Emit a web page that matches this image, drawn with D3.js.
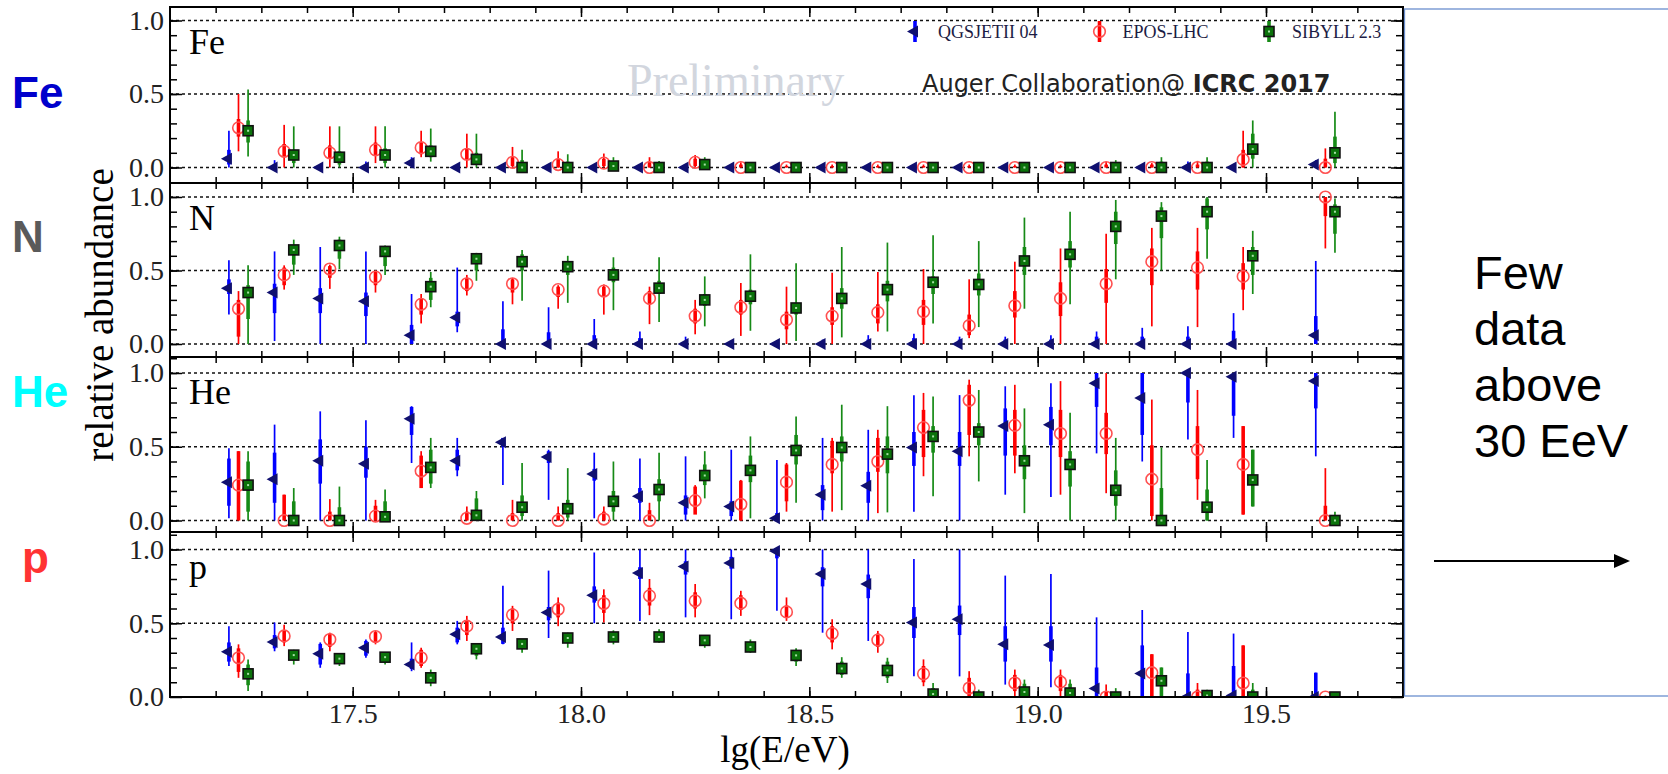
<!DOCTYPE html>
<meta charset="utf-8">
<html>
<head>
<style>
  body { margin: 0; background: #fff; }
  svg { display: block; }
</style>
</head>
<body>
<div id="chart"></div>
<script src="https://d3js.org/d3.v7.min.js"></script>
<script>

  // Energy bins lg(E/eV), last one is the open bin above 19.5
  var lgE = [17.25, 17.35, 17.45, 17.55, 17.65, 17.75, 17.85, 17.95, 18.05, 18.15, 18.25, 18.35,
             18.45, 18.55, 18.65, 18.75, 18.85, 18.95, 19.05, 19.15, 19.25, 19.35, 19.45, 19.63];

  // every point: [value, sys low, sys high, stat low, stat high]
  var qgsFe = [[0.06,0,0.25,0.02,0.12],[0,0,0.05,0,0.02],[0,0,0.02,0,0.01],[0,0,0.04,0,0.02],
    [0.03,0,0.07,0.01,0.05],[0,0,0.01,0,0],[0,0,0.01,0,0],[0,0,0.01,0,0],[0,0,0.02,0,0.01],
    [0,0,0.01,0,0],[0,0,0.02,0,0.01],[0,0,0.01,0,0],[0,0,0.01,0,0],[0,0,0.01,0,0],[0,0,0.01,0,0],
    [0,0,0.01,0,0],[0,0,0.01,0,0],[0,0,0.01,0,0],[0,0,0.01,0,0],[0,0,0.01,0,0],[0,0,0.01,0,0],
    [0,0,0.04,0,0.02],[0,0,0.01,0,0],[0.02,0,0.05,0,0.04]];
  var eposFe = [[0.27,0.11,0.5,0.21,0.33],[0.11,0,0.29,0.07,0.16],[0.10,0,0.28,0.06,0.15],
    [0.12,0.03,0.28,0.08,0.17],[0.135,0.07,0.25,0.09,0.17],[0.09,0,0.23,0.05,0.13],
    [0.035,0,0.14,0.01,0.07],[0.02,0,0.11,0,0.06],[0.03,0,0.095,0.01,0.06],[0,0,0.07,0,0.04],
    [0.035,0,0.085,0.01,0.06],[0,0,0.035,0,0.02],[0,0,0.02,0,0.01],[0,0,0.02,0,0.01],
    [0,0,0.02,0,0.01],[0,0,0.02,0,0.01],[0,0,0.02,0,0.01],[0,0,0.02,0,0.01],[0,0,0.02,0,0.01],
    [0,0,0.04,0,0.02],[0,0,0.03,0,0.02],[0,0,0.045,0,0.02],[0.055,0,0.25,0,0.12],[0,0,0.13,0,0.06]];
  var sibFe = [[0.25,0.075,0.53,0.17,0.32],[0.085,0,0.28,0.03,0.12],[0.07,0,0.28,0.02,0.11],
    [0.085,0,0.28,0.03,0.13],[0.11,0.04,0.265,0.07,0.15],[0.055,0,0.23,0.02,0.1],[0,0,0.12,0,0.05],
    [0,0,0.09,0,0.04],[0.01,0,0.07,0,0.04],[0,0,0.045,0,0.02],[0.02,0,0.07,0,0.04],[0,0,0.02,0,0.01],
    [0,0,0.02,0,0.01],[0,0,0.02,0,0.01],[0,0,0.02,0,0.01],[0,0,0.02,0,0.01],[0,0,0.02,0,0.01],
    [0,0,0.02,0,0.01],[0,0,0.02,0,0.01],[0,0,0.05,0,0.03],[0,0,0.07,0,0.04],[0,0,0.07,0,0.04],
    [0.125,0,0.32,0.06,0.23],[0.10,0,0.38,0.03,0.21]];

  var qgsN = [[0.38,0.2,0.57,0.34,0.44],[0.35,0.02,0.63,0.21,0.41],[0.31,0,0.66,0.21,0.38],
    [0.29,0,0.63,0.19,0.35],[0.06,0,0.34,0,0.13],[0.18,0.08,0.52,0.12,0.22],[0,0,0.29,0,0.1],
    [0,0,0.25,0,0.08],[0,0,0.17,0,0.06],[0,0,0.085,0,0.04],[0,0,0.05,0,0.02],[0,0,0.01,0,0],
    [0,0,0.01,0,0],[0,0,0.03,0,0.02],[0,0,0.06,0,0.03],[0,0,0.07,0,0.04],[0,0,0.05,0,0.03],
    [0,0,0.05,0,0.03],[0,0,0.06,0,0.03],[0,0,0.085,0,0.05],[0,0,0.11,0,0.05],[0,0,0.12,0,0.05],
    [0,0,0.21,0,0.09],[0.06,0,0.565,0,0.19]];
  var eposN = [[0.24,0,0.36,0.05,0.3],[0.47,0.37,0.535,0.4,0.52],[0.51,0.375,0.54,0.45,0.53],
    [0.455,0.35,0.5,0.4,0.49],[0.27,0.14,0.34,0.2,0.31],[0.41,0.33,0.47,0.36,0.45],
    [0.41,0.27,0.45,0.35,0.44],[0.37,0.24,0.4,0.32,0.39],[0.36,0.2,0.405,0.32,0.39],
    [0.31,0.135,0.39,0.27,0.36],[0.19,0.066,0.3,0.14,0.24],[0.25,0.055,0.415,0.2,0.3],
    [0.165,0,0.39,0.1,0.22],[0.19,0,0.485,0.13,0.25],[0.215,0.085,0.49,0.14,0.27],
    [0.22,0,0.51,0.13,0.3],[0.125,0.04,0.44,0.06,0.2],[0.26,0,0.56,0.18,0.36],[0.31,0,0.65,0.19,0.42],
    [0.41,0,0.75,0.28,0.51],[0.56,0.12,0.79,0.4,0.65],[0.52,0.115,0.79,0.37,0.63],
    [0.46,0.23,0.66,0.37,0.55],[1.0,0.65,1.0,0.87,1.0]];
  var sibN = [[0.35,0,0.535,0.17,0.4],[0.64,0.47,0.71,0.54,0.67],[0.67,0.51,0.73,0.58,0.71],
    [0.63,0.47,0.67,0.53,0.66],[0.39,0.25,0.49,0.3,0.45],[0.58,0.43,0.62,0.5,0.61],
    [0.56,0.295,0.64,0.5,0.61],[0.526,0.28,0.6,0.47,0.56],[0.47,0.23,0.59,0.42,0.52],
    [0.38,0.15,0.59,0.34,0.43],[0.30,0.12,0.46,0.26,0.34],[0.325,0.09,0.61,0.27,0.37],
    [0.245,0.02,0.55,0.2,0.28],[0.31,0.045,0.66,0.24,0.38],[0.37,0.085,0.69,0.29,0.43],
    [0.42,0.14,0.74,0.34,0.46],[0.405,0.115,0.70,0.33,0.48],[0.565,0.24,0.86,0.47,0.66],
    [0.61,0.27,0.9,0.52,0.7],[0.8,0.44,0.98,0.68,0.9],[0.87,0.5,0.965,0.72,0.93],
    [0.9,0.58,1.0,0.78,0.99],[0.6,0.34,0.77,0.47,0.66],[0.9,0.62,0.99,0.75,0.95]];

  var qgsHe = [[0.26,0.015,0.49,0.1,0.42],[0.28,0,0.65,0.12,0.46],[0.405,0,0.74,0.25,0.55],
    [0.385,0,0.68,0.29,0.5],[0.69,0.39,0.775,0.58,0.77],[0.405,0.3,0.56,0.34,0.48],
    [0.53,0.24,0.56,0.5,0.56],[0.43,0.14,0.48,0.39,0.47],[0.315,0.015,0.46,0.27,0.35],
    [0.165,0,0.42,0.12,0.22],[0.12,0,0.435,0.04,0.17],[0.095,0,0.48,0.03,0.13],[0.015,0,0.41,0,0.05],
    [0.175,0,0.56,0.07,0.24],[0.235,0,0.615,0.12,0.33],[0.495,0.06,0.85,0.37,0.6],
    [0.47,0,0.85,0.37,0.6],[0.64,0.175,0.91,0.44,0.76],[0.65,0.16,0.93,0.51,0.77],
    [0.93,0.455,1.0,0.77,1.0],[0.83,0.4,1.0,0.58,1.0],[1.0,0.55,1.0,0.8,1.0],
    [0.975,0.56,1.0,0.71,1.0],[0.945,0.435,1.0,0.76,1.0]];
  var eposHe = [[0.24,0,0.47,0,0.47],[0,0,0.175,0,0.175],[0,0,0.145,0,0.06],[0.03,0,0.14,0,0.1],
    [0.335,0.22,0.47,0.22,0.44],[0.015,0,0.095,0,0.06],[0,0,0.14,0,0.05],[0,0,0.095,0,0.05],
    [0.01,0,0.095,0,0.06],[0,0,0.12,0,0.07],[0.135,0.045,0.24,0.04,0.23],[0.11,0,0.275,0,0.27],
    [0.26,0.06,0.39,0.13,0.38],[0.38,0.06,0.56,0.32,0.54],[0.40,0.05,0.615,0.33,0.56],
    [0.63,0.3,0.865,0.43,0.75],[0.815,0.435,0.955,0.58,0.92],[0.645,0.32,0.92,0.44,0.75],
    [0.59,0.175,0.945,0.43,0.75],[0.59,0.185,1.0,0.45,0.73],[0.28,0,0.82,0.03,0.51],
    [0.48,0.14,0.885,0.28,0.64],[0.38,0.04,0.64,0.04,0.64],[0,0,0.355,0,0.1]];
  var sibHe = [[0.24,0,0.47,0.06,0.4],[0,0,0.22,0,0.13],[0,0,0.23,0,0.09],[0.025,0,0.21,0,0.13],
    [0.36,0.22,0.56,0.25,0.48],[0.035,0,0.2,0,0.15],[0.09,0,0.39,0.03,0.17],[0.08,0,0.355,0.02,0.14],
    [0.13,0,0.4,0.06,0.2],[0.21,0,0.46,0.13,0.28],[0.305,0.15,0.47,0.24,0.38],
    [0.34,0.015,0.57,0.26,0.44],[0.475,0.12,0.705,0.38,0.58],[0.495,0.07,0.785,0.4,0.57],
    [0.45,0.055,0.775,0.32,0.57],[0.57,0.165,0.84,0.46,0.64],[0.6,0.265,0.885,0.51,0.66],
    [0.405,0.05,0.76,0.28,0.51],[0.38,0,0.73,0.23,0.47],[0.205,0,0.56,0.1,0.34],[0,0,0.495,0,0.22],
    [0.09,0,0.41,0,0.21],[0.275,0.095,0.48,0.095,0.48],[0,0,0.06,0,0.03]];

  var qgsP = [[0.307,0.21,0.48,0.24,0.37],[0.373,0.31,0.505,0.33,0.42],[0.293,0.198,0.37,0.22,0.36],
    [0.334,0.266,0.39,0.28,0.38],[0.22,0.175,0.37,0.19,0.26],[0.425,0.357,0.516,0.37,0.47],
    [0.407,0.357,0.755,0.36,0.47],[0.573,0.4,0.857,0.52,0.61],[0.69,0.5,0.98,0.64,0.75],
    [0.84,0.516,1.0,0.8,0.88],[0.884,0.54,1.0,0.83,0.92],[0.909,0.527,1.0,0.87,0.95],
    [0.99,0.584,1.0,0.94,1.0],[0.834,0.436,1.0,0.75,0.88],[0.766,0.38,1.0,0.67,0.83],
    [0.505,0.14,0.936,0.4,0.61],[0.527,0.14,1.0,0.42,0.62],[0.357,0.084,0.823,0.24,0.48],
    [0.352,0.066,0.834,0.24,0.48],[0.057,0,0.54,0,0.2],[0.16,0,0.59,0,0.35],[0,0,0.44,0,0.16],
    [0.01,0,0.43,0,0.21],[0,0,0.165,0,0.165]];
  var eposP = [[0.266,0.13,0.357,0.17,0.33],[0.414,0.345,0.49,0.37,0.45],[0.39,0.31,0.436,0.34,0.43],
    [0.41,0.357,0.45,0.37,0.44],[0.266,0.198,0.334,0.21,0.32],[0.48,0.38,0.55,0.42,0.52],
    [0.557,0.448,0.618,0.5,0.6],[0.595,0.48,0.675,0.54,0.64],[0.634,0.505,0.73,0.57,0.69],
    [0.686,0.555,0.8,0.62,0.74],[0.652,0.54,0.766,0.6,0.71],[0.636,0.55,0.72,0.59,0.69],
    [0.577,0.516,0.675,0.54,0.62],[0.43,0.323,0.527,0.37,0.48],[0.386,0.3,0.448,0.34,0.43],
    [0.157,0.073,0.255,0.1,0.21],[0.061,0,0.175,0,0.13],[0.095,0,0.186,0.04,0.15],
    [0.102,0,0.186,0.04,0.15],[0,0,0.085,0,0.04],[0.165,0,0.29,0,0.29],[0,0,0.095,0,0.05],
    [0.095,0,0.35,0,0.35],[0,0,0.01,0,0]];
  var sibP = [[0.157,0.04,0.255,0.08,0.22],[0.284,0.22,0.32,0.25,0.31],[0.26,0.21,0.29,0.23,0.28],
    [0.27,0.22,0.30,0.24,0.29],[0.13,0.073,0.186,0.1,0.16],[0.327,0.255,0.357,0.28,0.34],
    [0.36,0.3,0.39,0.33,0.38],[0.40,0.334,0.436,0.37,0.42],[0.407,0.357,0.452,0.38,0.43],
    [0.407,0.368,0.46,0.38,0.43],[0.384,0.334,0.414,0.36,0.41],[0.339,0.3,0.39,0.32,0.37],
    [0.282,0.21,0.33,0.24,0.31],[0.193,0.13,0.27,0.15,0.24],[0.18,0.095,0.266,0.13,0.24],
    [0.02,0,0.095,0,0.06],[0,0,0.05,0,0.03],[0.034,0,0.118,0,0.09],[0.027,0,0.118,0,0.09],
    [0,0,0.06,0,0.03],[0.11,0,0.2,0,0.2],[0.01,0,0.05,0,0.03],[0,0,0.095,0,0.05],[0,0,0.01,0,0]];

  var models = ["QGSJETII 04", "EPOS-LHC", "SIBYLL 2.3"];
  var xTickLabels = [17.5, 18.0, 18.5, 19.0, 19.5];
  var yTickLabels = [0, 0.5, 1.0];
  var noteLines = ["Few", "data", "above", "30 EeV"];

  // Layout
  var left = 170, right = 1403;
  var barColor = ["#0000ff", "#ff0000", "#168a16"];
  var shift = [-0.021, 0, 0.021];

  var panels = [
    {name: "Fe", side: "Fe", sideColor: "#0000cc", sideX: 12, sideY: 108, rows: [qgsFe, eposFe, sibFe], top: 7, bottom: 183, zero: 167.5, one: 20.5},
    {name: "N", side: "N", sideColor: "#5a5a5a", sideX: 12, sideY: 252, rows: [qgsN, eposN, sibN], top: 183, bottom: 357, zero: 344, one: 197},
    {name: "He", side: "He", sideColor: "#00ffff", sideX: 12, sideY: 407, rows: [qgsHe, eposHe, sibHe], top: 357, bottom: 532, zero: 520.5, one: 373},
    {name: "p", side: "p", sideColor: "#ff3333", sideX: 22, sideY: 573, rows: [qgsP, eposP, sibP], top: 532, bottom: 697, zero: 697, one: 549.5}
  ];

  var svg = d3.select("#chart")
    .append("svg")
      .attr("width", 1668)
      .attr("height", 774);

  svg.append("rect").attr("width", 1668).attr("height", 774).attr("fill", "#fff");

  var x = d3.scaleLinear()
    .domain([17.1, 19.8])
    .range([left, right]);

  var xMinor = d3.range(172, 198).map(function(d) { return d / 10; });

  // draw a marker of model m at (cx, cy)
  function marker(g, m, cx, cy) {
    if (m == 0) {
      g.append("path")
        .attr("d", "M" + (cx + 3) + "," + (cy - 6) + "L" + (cx - 8) + "," + cy + "L" + (cx + 3) + "," + (cy + 6) + "Z")
        .attr("fill", "#101070");
    } else if (m == 1) {
      g.append("circle")
        .attr("cx", cx).attr("cy", cy).attr("r", 5.8)
        .attr("fill", "none")
        .attr("stroke", "#ff5050")
        .attr("stroke-width", 1.6);
    } else {
      g.append("rect")
        .attr("x", cx - 5).attr("y", cy - 5).attr("width", 10).attr("height", 10)
        .attr("fill", "#0b730b")
        .attr("stroke", "#111")
        .attr("stroke-width", 1.6);
      g.append("rect")
        .attr("x", cx - 1).attr("y", cy - 1).attr("width", 2).attr("height", 2)
        .attr("fill", "#a8e0a8");
    }
  }

  panels.forEach(function(p, pi) {

    var y = d3.scaleLinear()
      .domain([0, 1])
      .range([p.zero, p.one]);

    var yMinor = d3.range(-1, 12).map(function(d) { return d / 10; })
      .filter(function(v) { return y(v) > p.top + 1 && y(v) < p.bottom - 1; });

    // dotted lines at 0, 0.5, 1
    svg.append("g")
      .selectAll("line")
      .data(yTickLabels)
      .enter()
      .append("line")
        .attr("x1", left).attr("x2", right)
        .attr("y1", function(d) { return y(d); })
        .attr("y2", function(d) { return y(d); })
        .attr("stroke", "#111")
        .attr("stroke-width", 1.3)
        .attr("stroke-dasharray", "3,3");

    // panel name
    svg.append("text")
      .attr("x", 189).attr("y", p.top + 47)
      .attr("font-family", "Liberation Serif")
      .attr("font-size", 36)
      .text(p.name);

    // big coloured label on the left
    svg.append("text")
      .attr("x", p.sideX).attr("y", p.sideY)
      .attr("font-family", "Liberation Sans")
      .attr("font-weight", "bold")
      .attr("font-size", 44)
      .attr("fill", p.sideColor)
      .text(p.side);

    // Add Y axes (ticks inside)
    svg.append("g")
      .attr("transform", "translate(" + left + ",0)")
      .call(d3.axisLeft(y).tickValues(yMinor).tickSize(-7).tickFormat(""))
      .call(function(g) { g.select(".domain").remove(); });
    var yl = svg.append("g")
      .attr("transform", "translate(" + left + ",0)")
      .call(d3.axisLeft(y).tickValues(yTickLabels).tickSize(-12).tickPadding(6).tickFormat(d3.format(".1f")))
      .call(function(g) { g.select(".domain").remove(); });
    yl.selectAll("text")
      .attr("font-family", "Liberation Serif")
      .attr("font-size", 28)
      .attr("fill", "#222");
    svg.append("g")
      .attr("transform", "translate(" + right + ",0)")
      .call(d3.axisRight(y).tickValues(yMinor).tickSize(-7).tickFormat(""))
      .call(function(g) { g.select(".domain").remove(); });
    svg.append("g")
      .attr("transform", "translate(" + right + ",0)")
      .call(d3.axisRight(y).tickValues(yTickLabels).tickSize(-12).tickFormat(""))
      .call(function(g) { g.select(".domain").remove(); });

    // Add X ticks on top and bottom of each panel
    svg.append("g")
      .attr("transform", "translate(0," + p.top + ")")
      .call(d3.axisTop(x).tickValues(xMinor).tickSize(-6).tickFormat(""))
      .call(function(g) { g.select(".domain").remove(); });
    svg.append("g")
      .attr("transform", "translate(0," + p.top + ")")
      .call(d3.axisTop(x).tickValues(xTickLabels).tickSize(-10).tickFormat(""))
      .call(function(g) { g.select(".domain").remove(); });
    svg.append("g")
      .attr("transform", "translate(0," + p.bottom + ")")
      .call(d3.axisBottom(x).tickValues(xMinor).tickSize(-6).tickFormat(""))
      .call(function(g) { g.select(".domain").remove(); });
    var xb = svg.append("g")
      .attr("transform", "translate(0," + p.bottom + ")")
      .call(d3.axisBottom(x).tickValues(xTickLabels).tickSize(-10).tickPadding(6)
        .tickFormat(pi == 3 ? d3.format(".1f") : ""))
      .call(function(g) { g.select(".domain").remove(); });
    xb.selectAll("text")
      .attr("font-family", "Liberation Serif")
      .attr("font-size", 28)
      .attr("fill", "#222");

    svg.selectAll(".tick line").attr("stroke-width", 1.5);

    // clip for the points
    svg.append("clipPath")
      .attr("id", "clip" + pi)
      .append("rect")
        .attr("x", left).attr("y", p.top)
        .attr("width", right - left).attr("height", p.bottom - p.top);

    var dg = svg.append("g").attr("clip-path", "url(#clip" + pi + ")");

    // Add the points with error bars
    p.rows.forEach(function(rows, m) {
      rows.forEach(function(d, i) {
        var cx = x(lgE[i] + shift[m]);
        dg.append("line")
          .attr("x1", cx).attr("x2", cx)
          .attr("y1", y(d[1])).attr("y2", y(d[2]))
          .attr("stroke", barColor[m])
          .attr("stroke-width", 1.7);
        dg.append("line")
          .attr("x1", cx).attr("x2", cx)
          .attr("y1", y(d[3])).attr("y2", y(d[4]))
          .attr("stroke", barColor[m])
          .attr("stroke-width", 3.6);
        marker(dg, m, cx, y(d[0]));
      });
    });

    // frame
    svg.append("rect")
      .attr("x", left).attr("y", p.top)
      .attr("width", right - left).attr("height", p.bottom - p.top)
      .attr("fill", "none")
      .attr("stroke", "#000")
      .attr("stroke-width", 2);
  });

  // Legend in the Fe panel
  var legendX = [915, 1099.5, 1269];
  models.forEach(function(name, m) {
    var lg = svg.append("g");
    lg.append("line")
      .attr("x1", legendX[m]).attr("x2", legendX[m])
      .attr("y1", 21).attr("y2", 42)
      .attr("stroke", barColor[m])
      .attr("stroke-width", 3.6);
    marker(lg, m, legendX[m], 31.5);
    lg.append("text")
      .attr("x", legendX[m] + 23).attr("y", 38)
      .attr("font-family", "Liberation Serif")
      .attr("font-size", 18)
      .attr("fill", "#1c1c44")
      .text(name);
  });

  // Watermark and credit
  svg.append("text")
    .attr("x", 627).attr("y", 96)
    .attr("font-family", "Liberation Serif")
    .attr("font-size", 46)
    .attr("fill", "#d2d6de")
    .text("Preliminary");

  var credit = svg.append("text")
    .attr("x", 922).attr("y", 92)
    .attr("font-family", "DejaVu Sans")
    .attr("font-size", 24)
    .attr("fill", "#222");
  credit.append("tspan").text("Auger Collaboration@ ");
  credit.append("tspan").attr("font-weight", "bold").text("ICRC 2017");

  // Axis titles
  svg.append("text")
    .attr("transform", "translate(113,315) rotate(-90)")
    .attr("text-anchor", "middle")
    .attr("font-family", "Liberation Serif")
    .attr("font-size", 39)
    .text("relative abundance");

  svg.append("text")
    .attr("x", 785).attr("y", 762)
    .attr("text-anchor", "middle")
    .attr("font-family", "Liberation Serif")
    .attr("font-size", 37)
    .text("lg(E/eV)");

  // Box on the right with the note and the arrow
  svg.append("rect")
    .attr("x", 1404.5).attr("y", 9)
    .attr("width", 300).attr("height", 687)
    .attr("fill", "none")
    .attr("stroke", "#6b8fce")
    .attr("stroke-width", 1.3);

  svg.append("g")
    .selectAll("text")
    .data(noteLines)
    .enter()
    .append("text")
      .attr("x", 1474)
      .attr("y", function(d, i) { return 289 + i * 56; })
      .attr("font-family", "Liberation Sans")
      .attr("font-size", 47)
      .text(function(d) { return d; });

  svg.append("line")
    .attr("x1", 1434).attr("x2", 1617)
    .attr("y1", 561).attr("y2", 561)
    .attr("stroke", "#000")
    .attr("stroke-width", 2);
  svg.append("path")
    .attr("d", "M1614,554L1630,561L1614,568Z")
    .attr("fill", "#000");

</script>
</body>
</html>
